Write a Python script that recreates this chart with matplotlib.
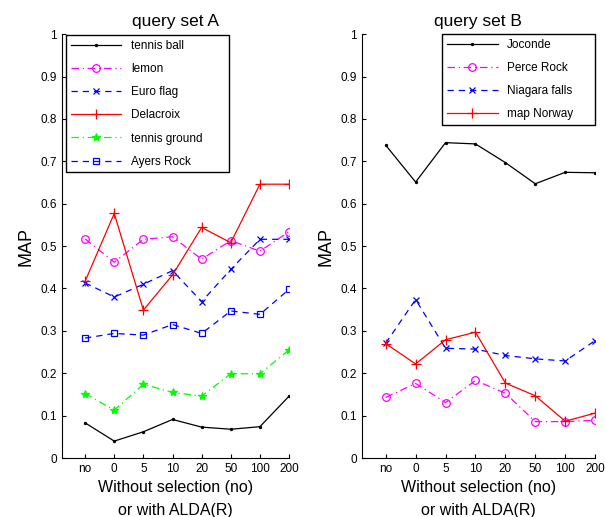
import matplotlib.pyplot as plt

plt.rcParams['font.family'] = ['Liberation Sans', 'DejaVu Sans']

xlabels = ['no', '0', '5', '10', '20', '50', '100', '200']
xpos = list(range(1, len(xlabels) + 1))

# query set A
tennis_ball = [0.083, 0.040, 0.062, 0.091, 0.073, 0.068, 0.074, 0.146]
lemon = [0.517, 0.462, 0.516, 0.522, 0.469, 0.513, 0.488, 0.534]
euro_flag = [0.413, 0.380, 0.410, 0.442, 0.369, 0.445, 0.516, 0.516]
delacroix = [0.417, 0.577, 0.349, 0.432, 0.544, 0.508, 0.646, 0.646]
tennis_ground = [0.152, 0.113, 0.174, 0.155, 0.146, 0.199, 0.199, 0.255]
ayers_rock = [0.283, 0.294, 0.290, 0.315, 0.294, 0.347, 0.339, 0.398]

# query set B
joconde = [0.738, 0.651, 0.744, 0.741, 0.697, 0.647, 0.674, 0.673]
perce_rock = [0.143, 0.176, 0.131, 0.183, 0.153, 0.086, 0.086, 0.089]
niagara = [0.271, 0.374, 0.259, 0.257, 0.242, 0.234, 0.229, 0.277]
map_norway = [0.270, 0.222, 0.279, 0.297, 0.177, 0.147, 0.087, 0.106]

fig = plt.figure(figsize=(6.06, 5.17), dpi=100)
axA = fig.add_axes([0.102, 0.114, 0.375, 0.820])
axB = fig.add_axes([0.597, 0.114, 0.385, 0.820])

lw = 0.9
mew = 0.9
dash = (0, (5, 4))
dashdot = (0, (6, 3, 1, 3))

def draw(ax, y, color, ls, marker, ms, label, hollow=False):
    kw = dict(mfc='none') if hollow else {}
    ax.plot(xpos, y, color=color, linestyle=ls, marker=marker, markersize=ms,
            markeredgewidth=mew, linewidth=lw, label=label, **kw)

draw(axA, tennis_ball, 'black', '-', '.', 3, 'tennis ball')
draw(axA, lemon, '#ff00ff', dashdot, 'o', 5.5, 'lemon', hollow=True)
draw(axA, euro_flag, '#0000ff', dash, 'x', 4.5, 'Euro flag')
draw(axA, delacroix, '#ff0000', '-', '+', 7, 'Delacroix')
draw(axA, tennis_ground, '#00ff00', dashdot, '*', 6, 'tennis ground')
draw(axA, ayers_rock, '#0000ff', dash, 's', 5, 'Ayers Rock', hollow=True)

draw(axB, joconde, 'black', '-', '.', 3, 'Joconde')
draw(axB, perce_rock, '#ff00ff', dashdot, 'o', 5.5, 'Perce Rock', hollow=True)
draw(axB, niagara, '#0000ff', dash, 'x', 4.5, 'Niagara falls')
draw(axB, map_norway, '#ff0000', '-', '+', 7, 'map Norway')

yt = [i / 10 for i in range(11)]
ytl = ['0'] + ['%.1f' % v for v in yt[1:-1]] + ['1']
legend_boxes = {'A': (0.018, 0.0, 0.718, 0.998), 'B': (0.345, 0.0, 0.655, 1.0)}
for ax, title, key in [(axA, 'query set A', 'A'), (axB, 'query set B', 'B')]:
    ax.set_xlim(0.2, 8)
    ax.set_ylim(0, 1)
    ax.set_xticks(xpos)
    ax.set_xticklabels(xlabels, fontsize=8.5)
    ax.set_yticks(yt)
    ax.set_yticklabels(ytl, fontsize=8.5)
    ax.tick_params(direction='in', length=3, width=0.8)
    ax.spines['top'].set_visible(False)
    ax.spines['right'].set_visible(False)
    ax.set_title(title, fontsize=12.5, pad=6)
    ax.set_ylabel('MAP', fontsize=13)
    ax.set_xlabel('Without selection (no)\nor with ALDA(R)', fontsize=11.5, linespacing=1.6)
    leg = ax.legend(loc='upper left', bbox_to_anchor=legend_boxes[key], mode='expand',
                    fontsize=8.5, handlelength=4.3, fancybox=False,
                    edgecolor='black', framealpha=1, borderaxespad=0.0,
                    labelspacing=0.95)
    leg.get_frame().set_linewidth(1.0)

fig.savefig('out.png', dpi=100)
